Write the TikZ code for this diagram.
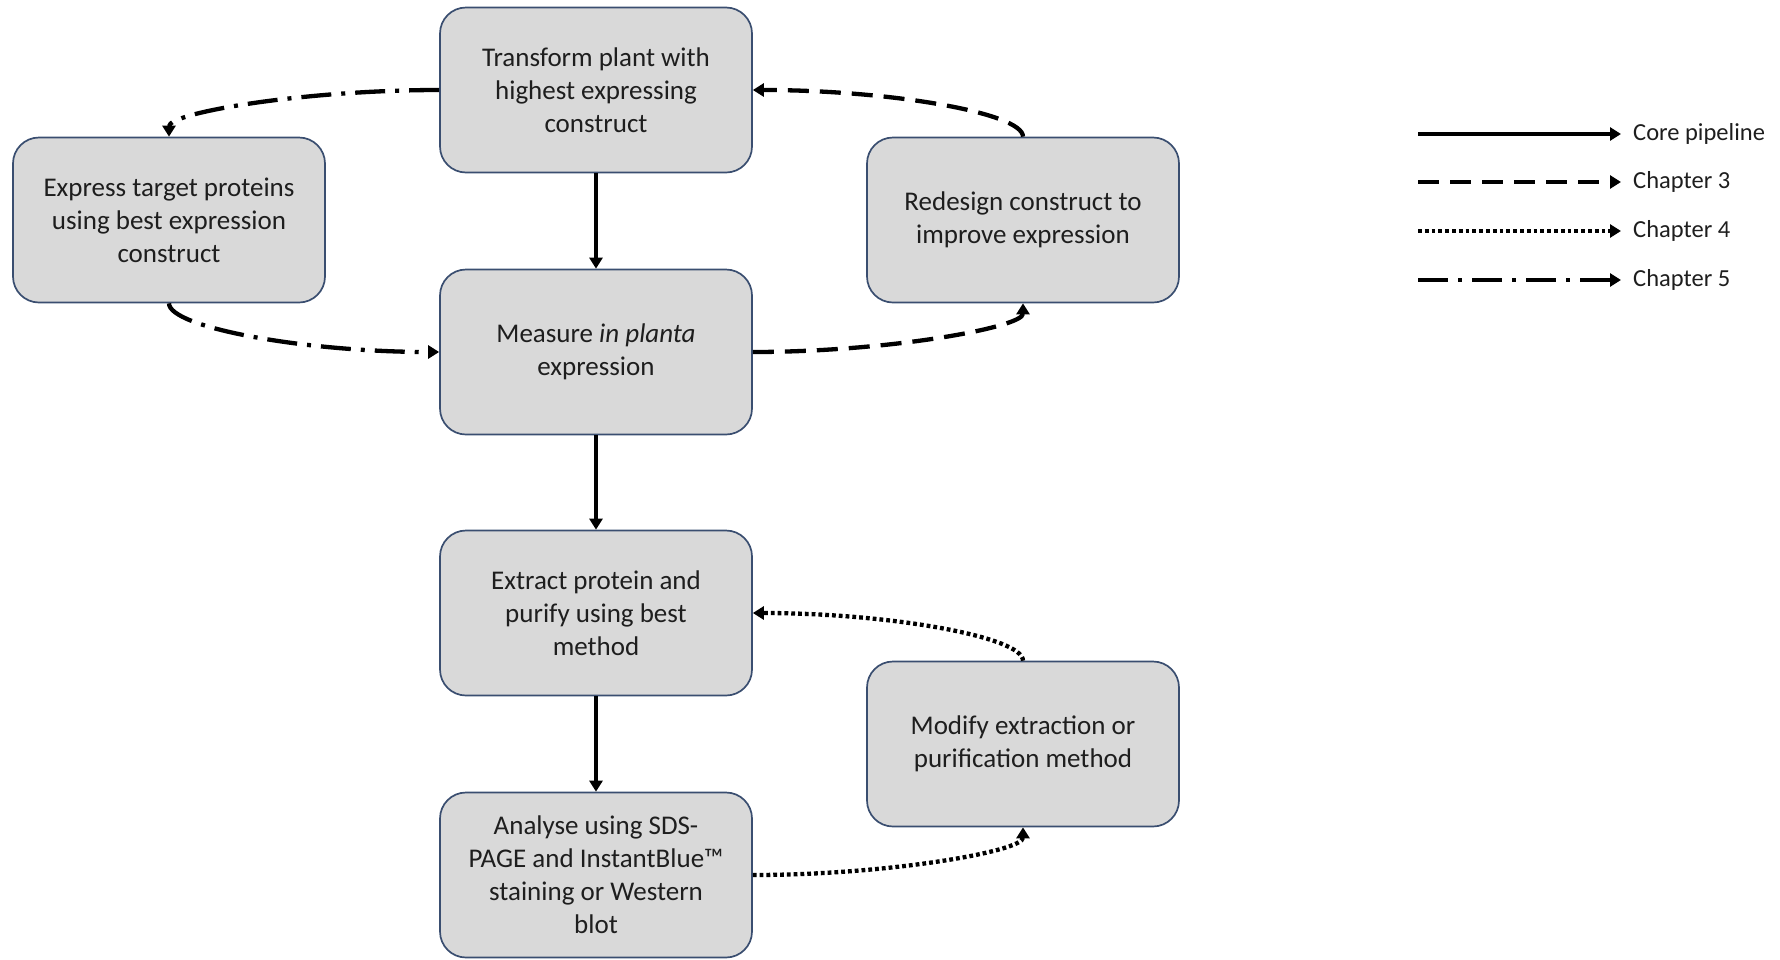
\documentclass[tikz,border=0pt]{standalone}
\usepackage{fontspec}
\setmainfont{Carlito}
\usetikzlibrary{arrows.meta}
\definecolor{boxfill}{RGB}{217,217,217}
\definecolor{boxline}{RGB}{58,78,112}
\definecolor{txt}{RGB}{30,30,30}
\tikzset{
  procbox/.style={draw=boxline, line width=1.7pt, fill=boxfill, rounded corners=26pt,
    minimum width=312pt, minimum height=165pt, align=center, text=txt,
    font=\fontsize{27pt}{33pt}\selectfont, inner sep=0pt},
  conn/.style={line width=4.3pt, black, -{Triangle[length=11pt,width=13pt]}},
  core/.style={conn},
  chthree/.style={conn, dash pattern=on 21pt off 11pt},
  chfour/.style={conn, dash pattern=on 3.8pt off 3pt},
  chfive/.style={conn, dash pattern=on 30pt off 10pt on 4pt off 10pt},
  legtext/.style={anchor=west, text=txt, font=\fontsize{24.5pt}{29pt}\selectfont, inner sep=0pt}
}
\begin{document}
\begin{tikzpicture}[x=1pt,y=-1pt]
\useasboundingbox (0,0) rectangle (1780,959);
\node[procbox] (transform) at (596,90) {Transform plant with\\highest expressing\\construct};
\node[procbox] (express) at (169,220) {Express target proteins\\using best expression\\construct};
\node[procbox] (redesign) at (1023,220) {Redesign construct to\\improve expression};
\node[procbox] (measure) at (596,352) {Measure \textit{in planta}\\expression};
\node[procbox] (extract) at (596,613) {Extract protein and\\purify using best\\method};
\node[procbox] (modify) at (1023,744) {Modify extraction or\\purification method};
\node[procbox] (analyse) at (596,875) {Analyse using SDS-\\PAGE and InstantBlue™\\staining or Western\\blot};

\draw[core] (transform.south) -- (measure.north);
\draw[core] (measure.south) -- (extract.north);
\draw[core] (extract.south) -- (analyse.north);

\draw[chfive] (transform.west) .. controls +(-135,0) and +(0,-24) .. (express.north);
\draw[chfive] (express.south) .. controls +(0,24) and +(-135,0) .. (measure.west);
\draw[chthree] (measure.east) .. controls +(135,0) and +(0,24) .. (redesign.south);
\draw[chthree] (redesign.north) .. controls +(0,-24) and +(135,0) .. (transform.east);
\draw[chfour] (analyse.east) .. controls +(135,0) and +(0,24) .. (modify.south);
\draw[chfour] (modify.north) .. controls +(0,-24) and +(135,0) .. (extract.east);

\coordinate (l1a) at (1418,134);
\coordinate (l1b) at (1621,134);
\coordinate (l2a) at (1418,182);
\coordinate (l2b) at (1621,182);
\coordinate (l3a) at (1418,231);
\coordinate (l3b) at (1621,231);
\coordinate (l4a) at (1418,280);
\coordinate (l4b) at (1621,280);
\draw[core] (l1a) -- (l1b);
\draw[chthree] (l2a) -- (l2b);
\draw[chfour] (l3a) -- (l3b);
\draw[chfive] (l4a) -- (l4b);
\node[legtext] (t1) at (1633,134) {Core pipeline};
\node[legtext] (t2) at (1633,182) {Chapter 3};
\node[legtext] (t3) at (1633,231) {Chapter 4};
\node[legtext] (t4) at (1633,280) {Chapter 5};
\end{tikzpicture}
\end{document}
